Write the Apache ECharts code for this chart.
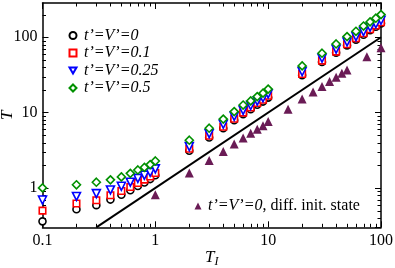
<!DOCTYPE html>
<html>
<head>
<meta charset="utf-8">
<script src="https://cdn.jsdelivr.net/npm/echarts@6/dist/echarts.min.js"></script>
<style>
html,body{margin:0;padding:0;background:#fff;}
#c{width:395px;height:268px;}
</style>
</head>
<body>
<div id="c"></div>
<script>
// ---- data ----
var TI = [0.1,0.2,0.3,0.4,0.5,0.6,0.7,0.8,0.9,1,2,3,4,5,6,7,8,9,10,20,30,40,50,60,70,80,90,100];
var T_v0   = [0.36,0.52,0.59,0.70,0.81,0.93,1.06,1.18,1.31,1.47,3.12,4.68,6.2,7.9,9.55,11.1,12.7,14.0,15.8,31.4,47,62.5,78,93,108,124,138,153];
var T_v01  = [0.50,0.62,0.685,0.80,0.91,1.03,1.16,1.29,1.42,1.58,3.31,4.93,6.5,8.3,10.0,11.7,13.4,14.8,16.7,32.6,49,64.5,80.7,97,113,128,143,158];
var T_v025 = [0.69,0.77,0.84,0.94,1.05,1.19,1.34,1.47,1.61,1.79,3.53,5.24,7.0,8.9,10.7,12.4,14.2,15.7,17.7,35,52.7,69.4,86.7,102,119,136,151,168];
var T_v05  = [1.0,1.1,1.19,1.28,1.40,1.56,1.73,1.87,2.04,2.28,4.3,6.2,8.2,10.3,12.6,14.3,16.3,18.1,20.5,41.7,61.4,81.5,102,120,141,160,179,200];
var TI_diff = [1,2,3,4,5,6,7,8,9,10,15,20,25,30,35,40,45,50,75,100];
var T_diff  = [0.81,1.58,2.32,3.05,3.83,4.6,5.3,6.0,6.7,7.6,11.1,15.1,18.8,22.2,25.8,29.5,33.3,36.9,55.3,72.8];
var refLineX = [0.3,100];
var refLineY = [0.3,100];
var seriesNames = ['t\u2019=V\u2019=0','t\u2019=V\u2019=0.1','t\u2019=V\u2019=0.25','t\u2019=V\u2019=0.5'];
var diffName = 't\u2019=V\u2019=0, diff. init. state';
var xMinorTicks = [0.2,0.3,0.4,0.5,0.6,0.7,0.8,0.9,2,3,4,5,6,7,8,9,20,30,40,50,60,70,80,90];
var yMinorTicks = [0.4,0.5,0.6,0.7,0.8,0.9,2,3,4,5,6,7,8,9,20,30,40,50,60,70,80,90,200];
var X_MIN = 0.1, X_MAX = 100, Y_MIN = 0.3, Y_MAX = 285;

function pairs(xs, ys){ return xs.map(function(x,i){ return [x, ys[i]]; }); }

var FONT = 'Liberation Serif';
var chart = echarts.init(document.getElementById('c'), null, {renderer:'canvas'});

var axisLineStyle = {show:true, lineStyle:{color:'#000', width:1.5}};
function xAx(pos, labels){
  return {type:'log', position:pos, min:X_MIN, max:X_MAX, logBase:10,
    axisLine: axisLineStyle, splitLine:{show:false},
    axisTick:{show:true, inside:true, length:6, lineStyle:{color:'#000', width:1}},
    axisLabel:{show:labels, color:'#000', fontFamily:FONT, fontSize:16, margin:5},
    name: labels ? '{t|T}{s|I}' : '', nameLocation:'middle', nameGap:19, nameMoveOverlap:false,
    nameTextStyle:{rich:{t:{fontFamily:FONT, fontStyle:'italic', fontSize:17, color:'#000'},
                         s:{fontFamily:FONT, fontStyle:'italic', fontSize:12, color:'#000', padding:[10,0,0,0]}}}
  };
}
function yAx(pos, labels){
  return {type:'log', position:pos, min:Y_MIN, max:Y_MAX, logBase:10,
    axisLine: axisLineStyle, splitLine:{show:false},
    axisTick:{show:true, inside:true, length:6, lineStyle:{color:'#000', width:1}},
    axisLabel:{show:labels, color:'#000', fontFamily:FONT, fontSize:16, margin:5, showMinLabel:false, showMaxLabel:false},
    name: labels ? 'T' : '', nameLocation:'middle', nameGap:26, nameRotate:90, nameMoveOverlap:false,
    nameTextStyle:{fontFamily:FONT, fontStyle:'italic', fontSize:17, color:'#000'}
  };
}

function minorTickSeries(vals, isX){
  return {
    type:'custom', xAxisIndex:0, yAxisIndex:0, silent:true, clip:false, z:5,
    data: vals.map(function(v){ return isX ? [v, 1] : [1, v]; }),
    renderItem: function(params, api){
      var cs = params.coordSys;
      var p = api.coord([api.value(0), api.value(1)]);
      var st = {stroke:'#000', lineWidth:1};
      if (isX) {
        var x = Math.round(p[0]) + 0.5;
        return {type:'group', children:[
          {type:'line', shape:{x1:x, y1:cs.y+cs.height, x2:x, y2:cs.y+cs.height-3.5}, style:st},
          {type:'line', shape:{x1:x, y1:cs.y, x2:x, y2:cs.y+3.5}, style:st}
        ]};
      } else {
        var y = Math.round(p[1]) + 0.5;
        return {type:'group', children:[
          {type:'line', shape:{x1:cs.x, y1:y, x2:cs.x+3.5, y2:y}, style:st},
          {type:'line', shape:{x1:cs.x+cs.width, y1:y, x2:cs.x+cs.width-3.5, y2:y}, style:st}
        ]};
      }
    }
  };
}

function scat(name, ys, symbol, color, size, rot){
  return {type:'scatter', name:name, data:pairs(TI, ys), symbol:symbol, symbolSize:size, symbolRotate:rot||0,
    itemStyle:{color:'#fff', borderColor:color, borderWidth:1.6, opacity:1}, z:10};
}

var legendData1 = [
  {name:seriesNames[0]},
  {name:seriesNames[1]},
  {name:seriesNames[2], icon:'path://M0,0L10,0L5,8.66Z'},
  {name:seriesNames[3]}
];

var option = {
  animation:false,
  backgroundColor:'#fff',
  grid:{left:42.5, right:14, top:3, bottom:40.7, containLabel:false, outerBoundsMode:'none'},
  xAxis:[xAx('bottom', true), xAx('top', false)],
  yAxis:[yAx('left', true), yAx('right', false)],
  legend:[
    {data:legendData1, orient:'vertical', left:68.5, top:27.5, itemWidth:7, itemHeight:7, itemGap:1.5,
     selectedMode:false, padding:0,
     formatter:function(n){ return '{i|' + n + '}'; },
     textStyle:{color:'#000', fontFamily:FONT, fontSize:16, lineHeight:16,
       rich:{i:{fontFamily:FONT, fontStyle:'italic', fontSize:16, color:'#000', lineHeight:16, padding:[0,0,0,2.5]}}}},
    {data:[diffName], orient:'horizontal', left:194.5, top:198, itemWidth:7, itemHeight:7,
     selectedMode:false, padding:0,
     formatter:function(n){ return '{i|t\u2019=V\u2019=0}{r|, diff. init. state}'; },
     textStyle:{color:'#000', fontFamily:FONT, fontSize:16, lineHeight:16,
       rich:{i:{fontFamily:FONT, fontStyle:'italic', fontSize:16, color:'#000', padding:[0,0,0,1.5]},
             r:{fontFamily:FONT, fontSize:16, color:'#000'}}}}
  ],
  series:[
    minorTickSeries(xMinorTicks, true),
    minorTickSeries(yMinorTicks, false),
    {type:'line', data:pairs(refLineX, refLineY), symbol:'none', lineStyle:{color:'#000', width:2}, z:3, silent:true},
    {type:'scatter', name:diffName, data:pairs(TI_diff, T_diff), symbol:'triangle', symbolSize:9,
      itemStyle:{color:'#6A1B55', opacity:1}, z:9},
    scat(seriesNames[0], T_v0, 'circle', '#000000', 7),
    scat(seriesNames[1], T_v01, 'rect', '#ff0000', 6.5),
    scat(seriesNames[2], T_v025, 'triangle', '#0000ff', 8, 180),
    scat(seriesNames[3], T_v05, 'diamond', '#009000', 8)
  ]
};
chart.setOption(option);
</script>
</body>
</html>
